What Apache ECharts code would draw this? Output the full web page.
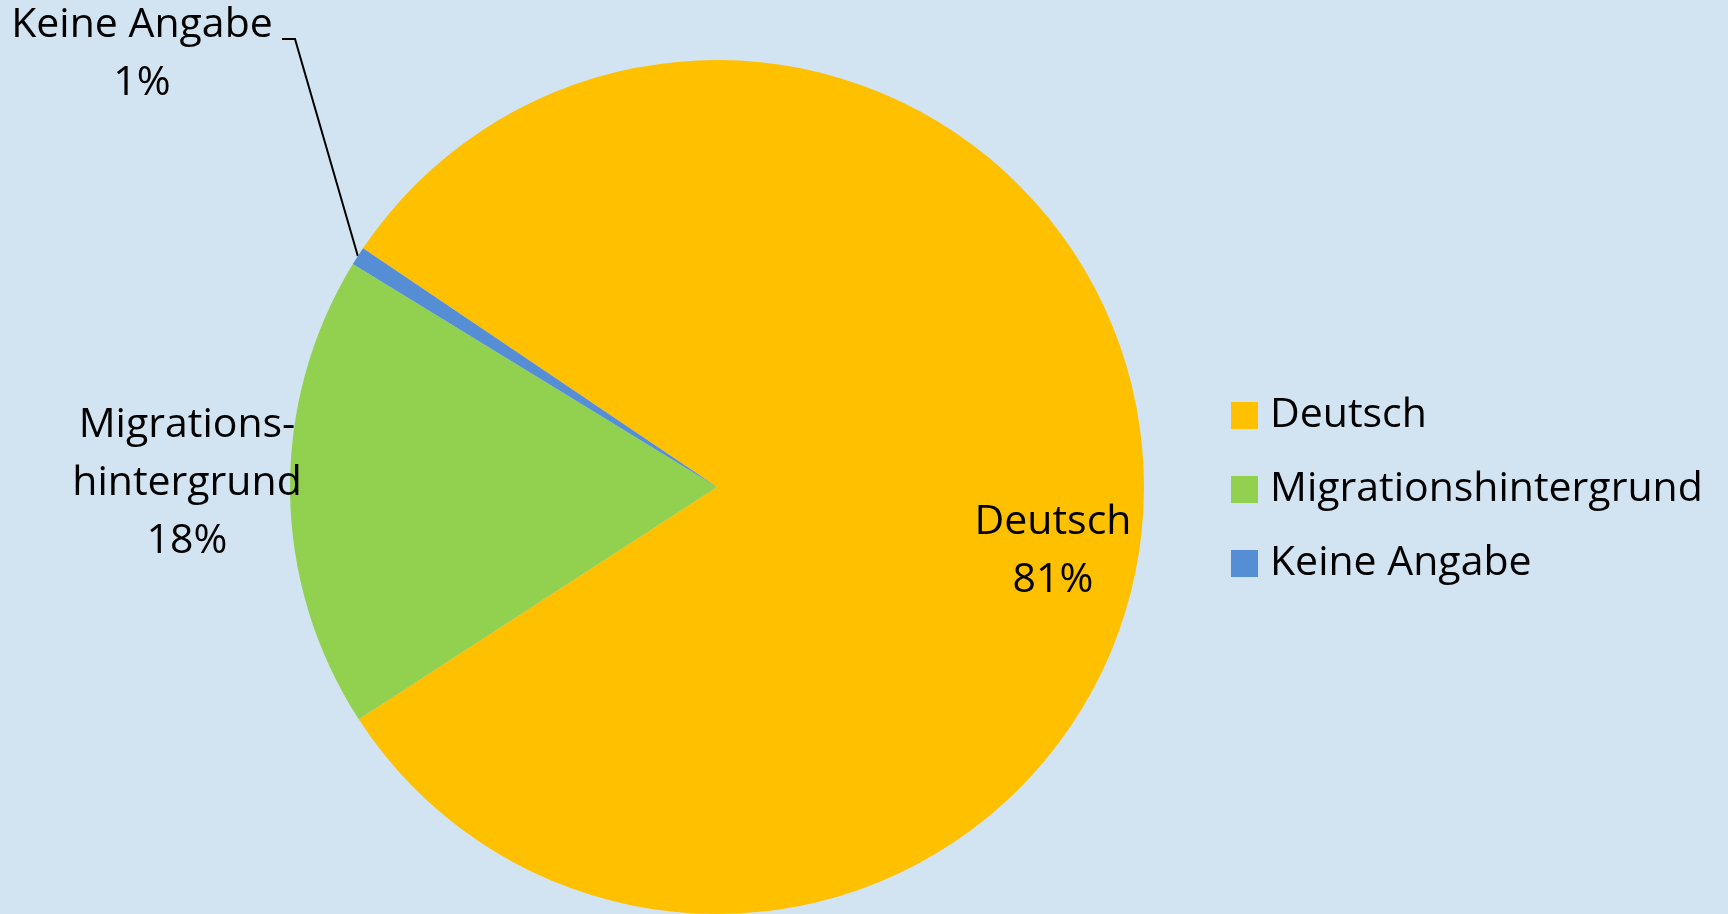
<!DOCTYPE html>
<html>
<head>
<meta charset="utf-8">
<title>Herkunft</title>
<style>
  html, body { margin: 0; padding: 0; background: #D2E4F2; }
  #container { width: 1728px; height: 914px; }
</style>
</head>
<body>
<div id="container"></div>
<script src="https://cdn.jsdelivr.net/npm/echarts@6/dist/echarts.min.js"></script>
<script>
// Kategorien und Anteile (in Prozent)
var categories = ['Deutsch', 'Migrationshintergrund', 'Keine Angabe'];
var labelNames = ['Deutsch', 'Migrations-\nhintergrund', 'Keine Angabe'];
var shares = [81.4, 17.9, 0.7];
var colors = ['#FFC000', '#92D050', '#558ED5'];

var fontFamily = '"Open Sans", Lato, sans-serif';

var chart = echarts.init(document.getElementById('container'));

var pieData = categories.map(function (name, i) {
  return { name: name, value: shares[i], itemStyle: { color: colors[i] } };
});

var option = {
  backgroundColor: '#D2E4F2',
  legend: {
    orient: 'vertical',
    left: 1226,
    top: 390,
    icon: 'rect',
    itemWidth: 27,
    itemHeight: 27,
    itemGap: 33,
    data: categories,
    textStyle: {
      fontFamily: fontFamily,
      fontSize: 41,
      color: '#000',
      padding: [0, 0, 0, 7]
    }
  },
  series: [{
    type: 'pie',
    center: [717, 487],
    radius: 427,
    startAngle: 146,
    clockwise: true,
    silent: true,
    data: pieData,
    itemStyle: { borderWidth: 0 },
    label: {
      show: true,
      position: 'outside',
      fontFamily: fontFamily,
      fontSize: 41,
      lineHeight: 58,
      color: '#000',
      align: 'center',
      overflow: 'none',
      formatter: function (p) {
        return labelNames[p.dataIndex] + '\n' + Math.round(p.percent) + '%';
      }
    },
    labelLine: {
      show: true,
      length: 30,
      length2: 20,
      lineStyle: { color: '#000', width: 2 }
    },
    labelLayout: function (p) {
      if (p.dataIndex === 0) {
        return { x: 1053, y: 551, align: 'center', verticalAlign: 'middle' };
      }
      if (p.dataIndex === 1) {
        return { x: 187, y: 483, width: 300, align: 'center', verticalAlign: 'middle' };
      }
      var start = p.labelLinePoints ? p.labelLinePoints[0] : [360, 257];
      return {
        x: 142, y: 54, align: 'center', verticalAlign: 'middle',
        labelLinePoints: [start, [295, 39], [282, 39]]
      };
    }
  }]
};

// Deutsch- und Migrations-Label ohne Führungslinie
option.series[0].data[0].labelLine = { show: false };
option.series[0].data[1].labelLine = { show: false };

chart.setOption(option);
</script>
</body>
</html>
